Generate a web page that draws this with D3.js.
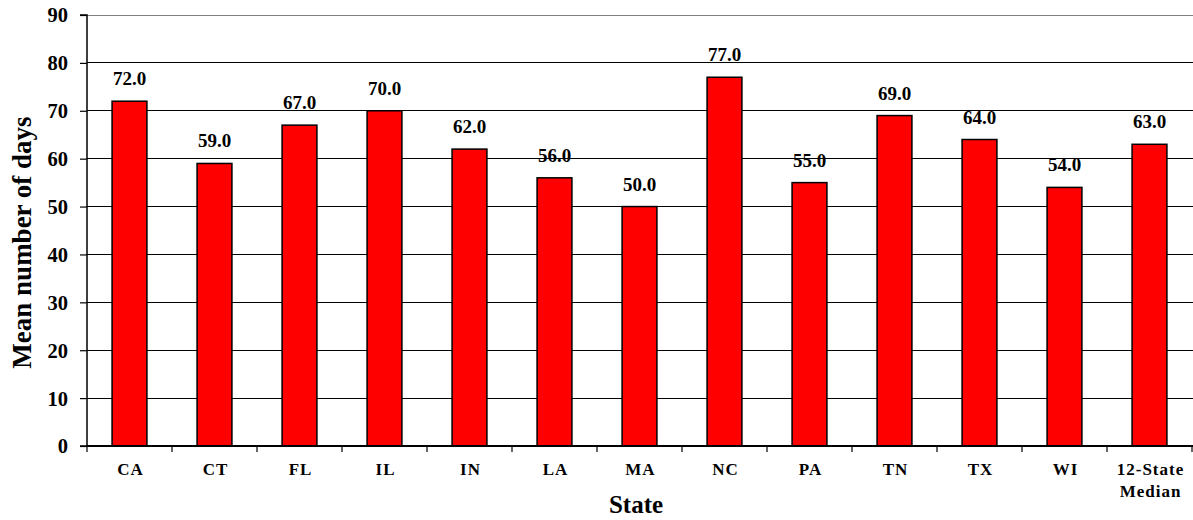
<!DOCTYPE html>
<html>
<head>
<meta charset="utf-8">
<script src="https://cdn.jsdelivr.net/npm/d3@7"></script>
<style>
  html, body { margin: 0; padding: 0; background: #fff; }
  svg { display: block; }
  text { font-family: "Liberation Serif", "Times New Roman", serif; font-weight: bold; fill: #000; }
</style>
</head>
<body>
<svg id="chart" width="1193" height="520"></svg>
<script>
// Mean number of days, by state
const states = ["CA", "CT", "FL", "IL", "IN", "LA", "MA", "NC", "PA", "TN", "TX", "WI", "12-State Median"];
const meanDays = [72.0, 59.0, 67.0, 70.0, 62.0, 56.0, 50.0, 77.0, 55.0, 69.0, 64.0, 54.0, 63.0];
const yTicks = [0, 10, 20, 30, 40, 50, 60, 70, 80, 90];

const svg = d3.select("#chart");
const margin = { left: 87, right: 1, top: 15, bottom: 74 };
const W = 1193, H = 520;

const x = d3.scaleBand().domain(states).range([margin.left, W - margin.right]).paddingInner(0.59).paddingOuter(0.295);
const y = d3.scaleLinear().domain([0, 90]).range([H - margin.bottom, margin.top]);

// horizontal gridlines
svg.append("g").selectAll("line").data(yTicks.filter(d => d > 0)).join("line")
  .attr("x1", margin.left).attr("x2", W)
  .attr("y1", d => y(d)).attr("y2", d => y(d))
  .attr("stroke", d => d === 90 ? "#808080" : "#000").attr("stroke-width", 1)
  .attr("shape-rendering", "crispEdges");

// bars
svg.append("g").selectAll("rect").data(states).join("rect")
  .attr("x", d => x(d)).attr("width", x.bandwidth())
  .attr("y", (d, i) => y(meanDays[i]))
  .attr("height", (d, i) => y(0) - y(meanDays[i]))
  .attr("fill", "#ff0000").attr("stroke", "#000").attr("stroke-width", 1.5);

// value labels
svg.append("g").selectAll("text").data(states).join("text")
  .attr("x", d => x(d) + x.bandwidth() / 2)
  .attr("y", (d, i) => y(meanDays[i]) - 16)
  .attr("text-anchor", "middle").style("font-size", "19px")
  .text((d, i) => meanDays[i].toFixed(1));

// y axis
const yAxis = d3.axisLeft(y).tickValues(yTicks).tickSize(7).tickPadding(12);
const gy = svg.append("g").attr("transform", `translate(${margin.left},0)`).call(yAxis);
gy.select(".domain").attr("stroke", "#000").attr("stroke-width", 1.5).attr("d", `M-7,${y(90)}H0V${y(0)}H-7`);
gy.selectAll(".tick line").attr("stroke", "#000").attr("stroke-width", 1.2);
gy.selectAll(".tick text").style("font-size", "20.5px").attr("font-family", null).attr("dy", "0.34em");

// x axis
const band = x.step();
const boundaries = d3.range(states.length + 1).map(i => margin.left + i * band);
svg.append("line").attr("x1", margin.left).attr("x2", W).attr("y1", y(0)).attr("y2", y(0))
  .attr("stroke", "#000").attr("stroke-width", 2);
svg.append("g").selectAll("line").data(boundaries).join("line")
  .attr("x1", d => d).attr("x2", d => d).attr("y1", y(0)).attr("y2", y(0) + 6)
  .attr("stroke", "#000").attr("stroke-width", 1.2);

const xl = svg.append("g").selectAll("text").data(states).join("text")
  .attr("x", d => x(d) + x.bandwidth() / 2)
  .attr("y", 475)
  .attr("text-anchor", "middle").style("font-size", "17px").style("letter-spacing", "1px");
xl.each(function (d) {
  const parts = d === "12-State Median" ? ["12-State", "Median"] : [d];
  const t = d3.select(this);
  parts.forEach((p, i) => {
    t.append("tspan").attr("x", x(d) + x.bandwidth() / 2 + 1).attr("dy", i === 0 ? 0 : 22).text(p);
  });
});

// axis titles
svg.append("text").attr("x", 636).attr("y", 513)
  .attr("text-anchor", "middle").style("font-size", "25px").text("State");
svg.append("text").attr("transform", `translate(31,${(y(0) + y(90)) / 2 + 12}) rotate(-90)`)
  .attr("text-anchor", "middle").style("font-size", "27px").text("Mean number of days");
</script>
</body>
</html>
